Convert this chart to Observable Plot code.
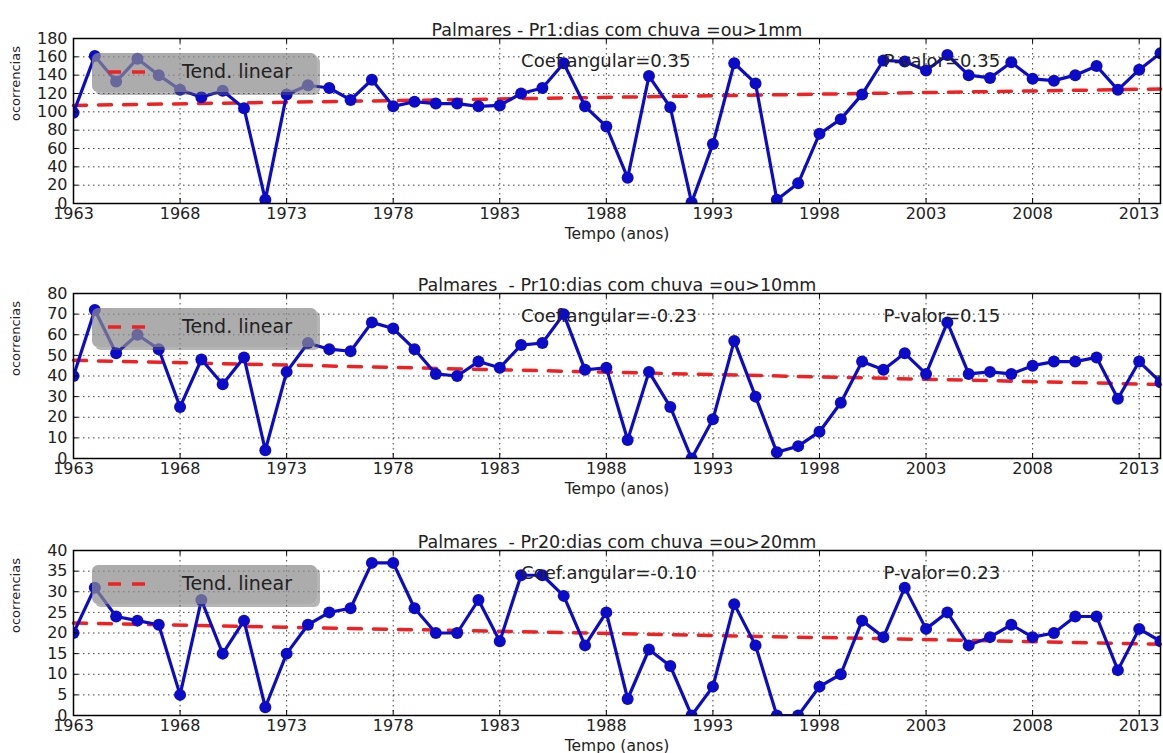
<!DOCTYPE html>
<html><head><meta charset="utf-8">
<script src="https://cdn.jsdelivr.net/npm/d3@7"></script>
<script src="https://cdn.jsdelivr.net/npm/@observablehq/plot@0.6"></script>
<style>
body{margin:0;background:#fff;font-family:"DejaVu Sans",sans-serif;}
#wrap{position:relative;width:1163px;height:753px;overflow:hidden;}
.panel{position:absolute;left:0;}
.legend{position:absolute;left:92px;width:225px;height:39px;background:rgba(140,140,140,0.72);border-radius:6px;box-shadow:3px 3px 0 rgba(90,90,90,0.45);}
.legend svg{position:absolute;left:16px;top:16px;}
.legend span{position:absolute;left:90px;top:7px;font-size:19px;color:#222;font-family:"DejaVu Sans",sans-serif;}
</style></head><body><div id="wrap"></div>
<script>
const years = [1963,1964,1965,1966,1967,1968,1969,1970,1971,1972,1973,1974,1975,1976,1977,1978,1979,1980,1981,1982,1983,1984,1985,1986,1987,1988,1989,1990,1991,1992,1993,1994,1995,1996,1997,1998,1999,2000,2001,2002,2003,2004,2005,2006,2007,2008,2009,2010,2011,2012,2013,2014];
const pr1 = [99,161,133,158,140,124,116,123,104,4,119,129,126,113,135,106,111,109,109,106,107,120,126,153,106,84,28,139,105,1,65,153,131,4,22,76,92,119,156,155,145,162,140,137,154,136,134,140,150,124,146,164];
const pr10 = [40,72,51,60,53,25,48,36,49,4,42,56,53,52,66,63,53,41,40,47,44,55,56,70,43,44,9,42,25,0,19,57,30,3,6,13,27,47,43,51,41,66,41,42,41,45,47,47,49,29,47,37];
const pr20 = [20,31,24,23,22,5,28,15,23,2,15,22,25,26,37,37,26,20,20,28,18,34,34,29,17,25,4,16,12,0,7,27,17,0,0,7,10,23,19,31,21,25,17,19,22,19,20,24,24,11,21,18];
const series = [pr1, pr10, pr20];
const trendStart = [107, 47.6, 22.4];
const trendEnd = [124.9, 35.9, 17.3];
const titles = ["Palmares - Pr1:dias com chuva =ou>1mm", "Palmares  - Pr10:dias com chuva =ou>10mm", "Palmares  - Pr20:dias com chuva =ou>20mm"];
const coefLabels = ["Coef.angular=0.35", "Coef.angular=-0.23", "Coef.angular=-0.10"];
const pLabels = ["P-valor=0.35", "P-valor=0.15", "P-valor=0.23"];
const annotX = [1984, 2001];
const xTicks = [1963,1968,1973,1978,1983,1988,1993,1998,2003,2008,2013];
const yTicks = [
  [0,20,40,60,80,100,120,140,160,180],
  [0,10,20,30,40,50,60,70,80],
  [0,5,10,15,20,25,30,35,40]
];
const xLabel = "Tempo (anos)";
const yLabel = "ocorrencias";
const legendLabel = "Tend. linear";

const blue = "#0c0cc8", red = "#ee2222";
const W = 1163, H = 241, mL = 73, mR = 3, mT = 38, mB = 38;
const fh = H - mT - mB, fw = W - mL - mR;
const tops = [0, 255, 512];
const wrap = document.getElementById("wrap");

series.forEach((vals, i) => {
  const data = years.map((yr, j) => ({year: yr, value: vals[j]}));
  const trend = [{year: years[0], value: trendStart[i]}, {year: years[years.length - 1], value: trendEnd[i]}];
  const yt = yTicks[i];
  const plot = Plot.plot({
    width: W, height: H, marginLeft: mL, marginRight: mR, marginTop: mT, marginBottom: mB,
    style: {fontFamily: "DejaVu Sans", background: "white", color: "#222", overflow: "visible"},
    x: {domain: [years[0], years[years.length - 1]]},
    y: {domain: [yt[0], yt[yt.length - 1]]},
    marks: [
      Plot.gridX(xTicks, {stroke: "#000", strokeOpacity: 0.75, strokeDasharray: "1.5,3.5", strokeWidth: 1}),
      Plot.gridY(yt, {stroke: "#000", strokeOpacity: 0.75, strokeDasharray: "1.5,3.5", strokeWidth: 1}),
      Plot.line(trend, {x: "year", y: "value", stroke: red, strokeWidth: 3.5, strokeDasharray: "13,12"}),
      Plot.line(data, {x: "year", y: "value", stroke: blue, strokeWidth: 3.2, clip: true}),
      Plot.dot(data, {x: "year", y: "value", r: 6, fill: blue, clip: true}),
      Plot.ruleX(xTicks, {x: d => d, insetTop: fh - 5, stroke: "#000"}),
      Plot.ruleX(xTicks, {x: d => d, insetBottom: fh - 5, stroke: "#000"}),
      Plot.ruleY(yt, {y: d => d, insetRight: fw - 5, stroke: "#000"}),
      Plot.ruleY(yt, {y: d => d, insetLeft: fw - 5, stroke: "#000"}),
      Plot.frame({stroke: "#000", strokeWidth: 1.5}),
      Plot.axisX(xTicks, {tickSize: 0, tickPadding: 4, tickFormat: d => String(d), fontSize: 16, label: null}),
      Plot.axisY(yt, {tickSize: 0, tickPadding: 6, tickFormat: d => String(d), fontSize: 16, label: null}),
      Plot.text([titles[i]], {frameAnchor: "top", dy: -15, fontSize: 17.5, fill: "#222"}),
      Plot.text([xLabel], {frameAnchor: "bottom", dy: 35, fontSize: 15.5, fill: "#222"}),
      Plot.text([yLabel], {frameAnchor: "left", dx: -58, rotate: -90, fontSize: 13, fill: "#222"}),
      Plot.text([coefLabels[i]], {x: () => annotX[0], frameAnchor: "top", dy: 16, textAnchor: "start", fontSize: 18, fill: "#222"}),
      Plot.text([pLabels[i]], {x: () => annotX[1], frameAnchor: "top", dy: 16, textAnchor: "start", fontSize: 18, fill: "#222"})
    ]
  });
  const div = document.createElement("div");
  div.className = "panel";
  div.style.top = tops[i] + "px";
  div.appendChild(plot);
  wrap.appendChild(div);

  const leg = document.createElement("div");
  leg.className = "legend";
  leg.style.top = (tops[i] + mT + 15) + "px";
  leg.innerHTML = `<svg width="40" height="6"><line x1="0" x2="40" y1="3" y2="3" stroke="${red}" stroke-width="3.5" stroke-dasharray="13,11"/></svg><span>${legendLabel}</span>`;
  wrap.appendChild(leg);
});
</script>
</body></html>
